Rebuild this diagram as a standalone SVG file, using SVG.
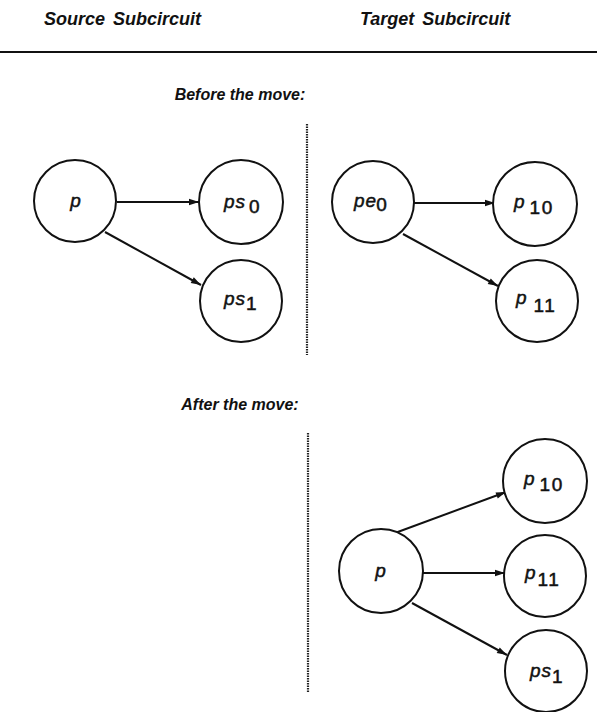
<svg xmlns="http://www.w3.org/2000/svg" width="597" height="712" viewBox="0 0 597 712">
  <style>
    .title { font-family: "Liberation Sans", Arial, sans-serif; font-style: italic; font-weight: bold; font-size: 18px; fill: #111; word-spacing: 3px; }
    .caption { font-family: "Liberation Sans", Arial, sans-serif; font-style: italic; font-weight: bold; font-size: 16px; fill: #111; }
    .lbl { font-family: "Liberation Sans", Arial, sans-serif; font-style: italic; font-size: 19px; fill: #111; stroke: #111; stroke-width: 0.5; letter-spacing: 1px; }
    .sub { font-style: normal; font-size: 19px; letter-spacing: 1.5px; }
    .node circle { fill: #fff; stroke: #111; stroke-width: 2; }
    .edge { stroke: #111; stroke-width: 2; fill: none; marker-end: url(#arrow); }
    .divider { stroke: #222; stroke-width: 2.2; stroke-dasharray: 1.4 1.1; fill: none; }
  </style>
  <defs>
    <marker id="arrow" viewBox="0 0 10 8" refX="10" refY="4" markerWidth="11" markerHeight="8" markerUnits="userSpaceOnUse" orient="auto">
      <path d="M0,0.8 L10,4 L0,7.2 Z" fill="#111"/>
    </marker>
  </defs>
  <rect width="597" height="712" fill="#fff"/>

  <!-- column headings -->
  <g id="headings">
    <text class="title" x="44" y="25">Source  Subcircuit</text>
    <text class="title" x="360" y="25">Target  Subcircuit</text>
    <line x1="0" y1="52" x2="597" y2="52" stroke="#111" stroke-width="2"/>
    <text class="caption" x="240" y="100" text-anchor="middle">Before the move:</text>
    <text class="caption" x="240" y="410" text-anchor="middle">After the move:</text>
  </g>

  <!-- separators between source and target sides -->
  <g id="separators">
    <line class="divider" x1="307" y1="124" x2="307" y2="355"/>
    <line class="divider" x1="308" y1="433" x2="308" y2="693"/>
  </g>

  <!-- connectors -->
  <g id="connectors">
    <line class="edge" x1="117" y1="202" x2="199" y2="202"/>
    <line class="edge" x1="105" y1="232" x2="201" y2="285"/>
    <line class="edge" x1="414" y1="203" x2="495" y2="203"/>
    <line class="edge" x1="403" y1="234" x2="498" y2="286"/>
    <line class="edge" x1="395" y1="533" x2="506" y2="492"/>
    <line class="edge" x1="423" y1="573" x2="505" y2="573"/>
    <line class="edge" x1="412" y1="603" x2="507" y2="655"/>
  </g>

  <!-- before the move: source side -->
  <g id="src-p" class="node">
    <circle cx="75" cy="201" r="41"/>
    <text class="lbl" x="76" y="207" text-anchor="middle">p</text>
  </g>
  <g id="src-ps0" class="node">
    <circle cx="241" cy="202" r="42"/>
    <text class="lbl" x="224" y="208">ps<tspan class="sub" dx="3" dy="5">0</tspan></text>
  </g>
  <g id="src-ps1" class="node">
    <circle cx="241" cy="301" r="41"/>
    <text class="lbl" x="224" y="305">ps<tspan class="sub" dx="0" dy="5">1</tspan></text>
  </g>

  <!-- before the move: target side -->
  <g id="tgt-pe0" class="node">
    <circle cx="373" cy="202" r="41"/>
    <text class="lbl" x="354" y="207">pe<tspan class="sub" dx="-1" dy="4">0</tspan></text>
  </g>
  <g id="tgt-p10" class="node">
    <circle cx="535" cy="204" r="42"/>
    <text class="lbl" x="514" y="208">p<tspan class="sub" dx="4" dy="6">10</tspan></text>
  </g>
  <g id="tgt-p11" class="node">
    <circle cx="537" cy="301" r="41"/>
    <text class="lbl" x="516" y="304">p<tspan class="sub" dx="6" dy="8">11</tspan></text>
  </g>

  <!-- after the move: target side -->
  <g id="after-p" class="node">
    <circle cx="381" cy="571" r="42"/>
    <text class="lbl" x="381" y="577" text-anchor="middle">p</text>
  </g>
  <g id="after-p10" class="node">
    <circle cx="545" cy="481" r="42"/>
    <text class="lbl" x="524" y="485">p<tspan class="sub" dx="4" dy="6">10</tspan></text>
  </g>
  <g id="after-p11" class="node">
    <circle cx="545" cy="576" r="41"/>
    <text class="lbl" x="525" y="579">p<tspan class="sub" dx="1" dy="7">11</tspan></text>
  </g>
  <g id="after-ps1" class="node">
    <circle cx="546" cy="671" r="41"/>
    <text class="lbl" x="530" y="677">ps<tspan class="sub" dx="0" dy="6">1</tspan></text>
  </g>
</svg>
